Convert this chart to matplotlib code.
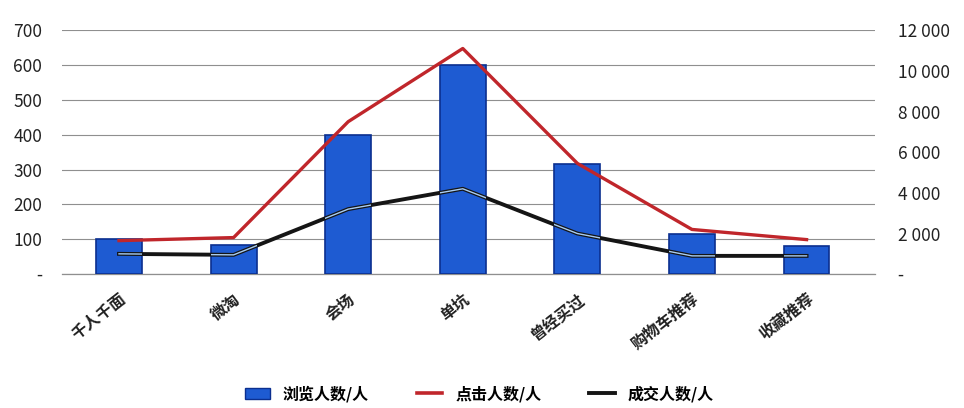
import numpy as np
import matplotlib.pyplot as plt

plt.rcParams['font.family'] = ['Noto Sans CJK SC', 'DejaVu Sans']

categories = ["千人千面", "微淘", "会场", "单坑", "曾经买过", "购物车推荐", "收藏推荐"]
views = [100, 83, 400, 600, 315, 115, 80]            # 浏览人数/人 (left axis)
clicks = [1650, 1800, 7500, 11100, 5450, 2200, 1700]  # 点击人数/人 (right axis)
deals = [1000, 950, 3200, 4200, 2000, 900, 900]       # 成交人数/人 (right axis)

left_ticks = list(range(0, 701, 100))
right_ticks = list(range(0, 12001, 2000))

BAR = "#1e5bd2"; BAR_EDGE = "#0b2f8f"; RED = "#c0262b"; DARK = "#151515"
GRID = "#8f8f8f"

fig = plt.figure(figsize=(9.64, 4.08), dpi=100)
ax = fig.add_axes([0.064, 0.328, 0.844, 0.598])
ax2 = ax.twinx()

x = np.arange(len(categories))
bars = ax.bar(x, views, width=0.4, color=BAR, edgecolor=BAR_EDGE, lw=1.2, zorder=2)
ax.set_ylim(0, 700)
ax.set_xlim(-0.5, 6.6)
ax.set_yticks(left_ticks)
ax.set_yticklabels(["-"] + [str(v) for v in left_ticks[1:]])
ax.grid(axis="y", color=GRID, lw=0.8, zorder=0)
ax.axhline(0, color=GRID, lw=0.9, zorder=1, clip_on=False)
ax.set_axisbelow(True)

ax2.plot(x, clicks, color=RED, lw=2.4, zorder=3)
ax2.plot(x, deals, color=DARK, lw=2.8, zorder=3)
# light sheen on the dark line where it crosses the bars
for b in bars:
    sheen, = ax2.plot(x, deals, color="#a9cdf2", lw=1.0, zorder=4)
    sheen.set_clip_path(b.get_path(), b.get_transform())
ax2.set_ylim(0, 12000)
ax2.set_yticks(right_ticks)
ax2.set_yticklabels(["-"] + [f"{v // 1000} 000" for v in right_ticks[1:]])

for a in (ax, ax2):
    for s in a.spines.values():
        s.set_visible(False)
    a.tick_params(length=0, labelsize=12.5, colors="#222222")
ax.tick_params(axis="y", pad=14)
ax2.tick_params(axis="y", pad=16)

ax.set_xticks(x)
ax.set_xticklabels(categories, rotation=38, ha="right", va="top",
                   rotation_mode="anchor", fontsize=11.5, fontweight="bold")
ax.tick_params(axis="x", pad=12)
ax.patch.set_visible(False)

handles = [plt.Rectangle((0, 0), 1, 1, facecolor=BAR, edgecolor=BAR_EDGE),
           plt.Line2D([], [], color=RED, lw=2.6),
           plt.Line2D([], [], color=DARK, lw=2.8)]
fig.legend(handles, ["浏览人数/人", "点击人数/人", "成交人数/人"], loc="center",
           bbox_to_anchor=(0.497, 0.035), ncol=3, frameon=False,
           prop={"size": 11.5, "weight": "bold"}, handlelength=1.6,
           columnspacing=3.0)

fig.savefig("out.png", dpi=100)
